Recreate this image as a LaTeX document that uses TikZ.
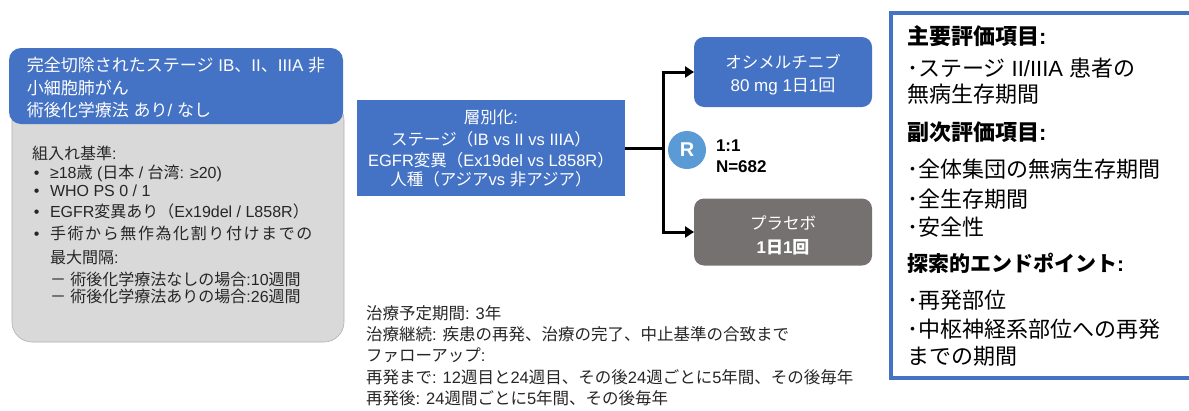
\documentclass[tikz,border=0pt]{standalone}
\usepackage{fontspec}
\setmainfont{Liberation Sans}
\newfontfamily\lafam{Liberation Sans}
\newfontfamily\jpfam{Noto Sans CJK JP}
\newcount\cjkc
\def\setclassrange#1#2#3{\cjkc=#1\relax\loop\XeTeXcharclass\cjkc=#3\relax\ifnum\cjkc<#2\relax\advance\cjkc by 1\repeat}
\setclassrange{"0020}{"2FFF}{0}
\setclassrange{"3000}{"30FF}{10}
\setclassrange{"3400}{"9FFF}{10}
\setclassrange{"FF00}{"FFEF}{10}
\XeTeXinterchartokenstate=1
\XeTeXinterchartoks 0 10 = {\jpfam}
\XeTeXinterchartoks 4095 10 = {\jpfam}
\XeTeXinterchartoks 10 0 = {\lafam}
\XeTeXinterchartoks 10 4095 = {\lafam}
\def\cjkspaced{\XeTeXinterchartoks 10 10 = {\kern1.6pt}}
\usetikzlibrary{arrows.meta}
\definecolor{pblue}{HTML}{4472C4}
\definecolor{pgray}{HTML}{D9D9D9}
\definecolor{pgrayb}{HTML}{B0B0B0}
\definecolor{pdark}{HTML}{767171}
\definecolor{rblue}{HTML}{5B9BD5}
\definecolor{txt}{HTML}{262626}
\tikzset{
  line/.style={inner sep=0pt, outer sep=0pt},
  lt/.style={line, anchor=base west},
  ct/.style={line, anchor=base},
  wtxt/.style={text=white},
  conn/.style={line width=3pt, black},
  arr/.style={conn, -{Triangle[length=9pt,width=11pt]}},
}
\begin{document}
\begin{tikzpicture}[x=1pt,y=-1pt]
\useasboundingbox (0,0) rectangle (1189,410);
% left block
\draw[pgrayb, fill=pgray, line width=0.6pt, rounded corners=20pt] (12,100) rectangle (344,342);
\fill[pblue, rounded corners=12pt] (9,48) rectangle (343,124);
\begin{scope}[font=\fontsize{17}{20}\selectfont, wtxt]
\node[lt] (h1) at (27,71) {完全切除されたステージ IB、II、IIIA 非};
\node[lt] (h2) at (27,94) {小細胞肺がん};
\node[lt] (h3) at (27,116) {術後化学療法 あり/ なし};
\end{scope}
\begin{scope}[font=\fontsize{16}{18}\selectfont, text=txt]
\node[lt] (g0) at (32,159) {組入れ基準:};
\node[lt] (b1) at (34,178) {•};
\node[lt] (g1) at (50,178) {≥18歳 (日本 / 台湾: ≥20)};
\node[lt] (b2) at (34,196) {•};
\node[lt] (g2) at (50,196) {WHO PS 0 / 1};
\node[lt] (b3) at (34,217) {•};
\node[lt] (g3) at (50,217) {EGFR変異あり（Ex19del / L858R）};
\node[lt] (b4) at (34,239) {•};
\node[lt, font=\fontsize{16}{18}\selectfont\cjkspaced] (g4) at (50,239) {手術から無作為化割り付けまでの};
\node[lt] (g5) at (50,263) {最大間隔:};
\node[lt] (g6) at (50,285) {－ 術後化学療法なしの場合:10週間};
\node[lt] (g7) at (50,302) {－ 術後化学療法ありの場合:26週間};
\end{scope}
% stratification
\node[fill=pblue, minimum width=268pt, minimum height=96pt, line] (strat) at (491,148) {};
\begin{scope}[font=\fontsize{16.5}{19}\selectfont, wtxt]
\node[ct] (s1) at (491,123) {層別化:};
\node[ct] (s2) at (491,145) {ステージ（IB vs II vs IIIA）};
\node[ct] (s3) at (491,166) {EGFR変異（Ex19del vs L858R）};
\node[ct] (s4) at (491,185) {人種（アジアvs 非アジア）};
\end{scope}
% arms
\node[fill=pblue, rounded corners=10pt, minimum width=178pt, minimum height=70pt, line] (arm1) at (783,72) {};
\node[fill=pdark, rounded corners=10pt, minimum width=178pt, minimum height=67pt, line] (arm2) at (783,232) {};
\begin{scope}[font=\fontsize{16.5}{20}\selectfont, wtxt]
\node[ct] (a1) at (783,68) {オシメルチニブ};
\node[ct, font=\fontsize{17}{20}\selectfont] (a2) at (783,91) {80 mg 1日1回};
\node[ct] (p1) at (783,229) {プラセボ};
\node[ct, font=\fontsize{17}{20}\selectfont\bfseries] (p2) at (783,253) {1日1回};
\end{scope}
% connectors
\coordinate (j) at (663,148);
\coordinate (jt) at (663,72);
\coordinate (jb) at (663,232);
\draw[conn] (strat.east) -- (j);
\draw[conn] (jt) -- (jb);
\draw[arr] ([xshift=-1.5pt]jt) -- (arm1.west);
\draw[arr] ([xshift=-1.5pt]jb) -- (arm2.west);
% R
\node[circle, fill=rblue, minimum size=38pt, line, text=white, font=\fontsize{20}{22}\selectfont\bfseries] (R) at (687,150) {R};
\node[lt, font=\fontsize{17}{18}\selectfont\bfseries] (r1) at (716,151) {1:1};
\node[lt, font=\fontsize{17}{18}\selectfont\bfseries] (r2) at (716,172) {N=682};
% bottom text
\begin{scope}[font=\fontsize{16.5}{19}\selectfont, text=txt]
\node[lt] (t1) at (366,319) {治療予定期間: 3年};
\node[lt] (t2) at (366,340) {治療継続: 疾患の再発、治療の完了、中止基準の合致まで};
\node[lt] (t3) at (366,361) {ファローアップ:};
\node[lt] (t4) at (366,383) {再発まで: 12週目と24週目、その後24週ごとに5年間、その後毎年};
\node[lt] (t5) at (366,404) {再発後: 24週間ごとに5年間、その後毎年};
\end{scope}
% endpoints box
\draw[pblue, line width=3.5pt] (891,13) rectangle (1210,378);
\begin{scope}[font=\fontsize{22}{24}\selectfont, text=black]
\node[lt, font=\fontsize{22}{24}\selectfont\bfseries] (e1) at (907,44) {主要評価項目:};
\node[lt] (e2) at (907,76) {･ステージ II/IIIA 患者の};
\node[lt] (e3) at (907,102) {無病生存期間};
\node[lt, font=\fontsize{22}{24}\selectfont\bfseries] (e4) at (907,140) {副次評価項目:};
\node[lt] (e5) at (907,177) {･全体集団の無病生存期間};
\node[lt] (e6) at (907,207) {･全生存期間};
\node[lt] (e7) at (907,235) {･安全性};
\node[lt, font=\fontsize{21}{24}\selectfont\bfseries] (e8) at (907,271) {探索的エンドポイント:};
\node[lt] (e9) at (907,308) {･再発部位};
\node[lt] (e10) at (907,337) {･中枢神経系部位への再発};
\node[lt] (e11) at (907,364) {までの期間};
\end{scope}
\end{tikzpicture}
\end{document}
